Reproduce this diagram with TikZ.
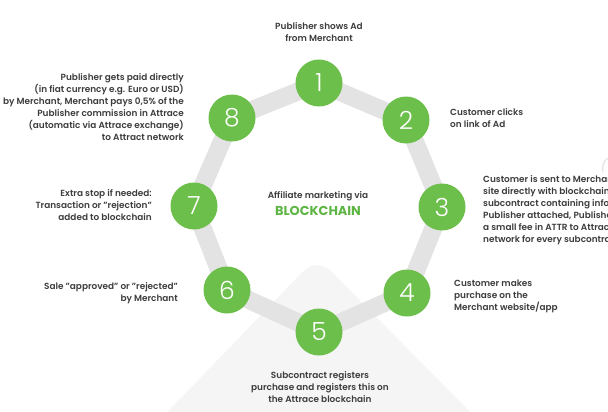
\documentclass[tikz,border=0pt]{standalone}
\usepackage{fontspec}
\usetikzlibrary{backgrounds}
\setmainfont{Poppins}[UprightFont=* SemiBold, BoldFont=* Bold]
\newfontfamily\numfont{Poppins}[UprightFont=* Light]
\definecolor{circgreen}{HTML}{6CBF4B}
\definecolor{titlegreen}{HTML}{5DB544}
\definecolor{txtgray}{HTML}{3C3C3C}
\definecolor{bandgray}{HTML}{E3E3E3}
\definecolor{bggray}{HTML}{F5F5F5}
\begin{document}
\begin{tikzpicture}[x=1pt,y=-1pt,
  stepcirc/.style={circle, fill=circgreen, minimum size=47pt, inner sep=0pt, text=white, font=\numfont\fontsize{25}{25}\selectfont},
  lbl/.style={inner sep=0pt, text=txtgray, font=\fontsize{8.9}{12.1}\selectfont},
  band/.style={draw=bandgray, line width=18pt, line join=round}]
\useasboundingbox (0,0) rectangle (608,412);
% step circles
\node[stepcirc] (s1) at (319,83) {1};
\node[stepcirc] (s2) at (406,120) {2};
\node[stepcirc] (s3) at (442,207) {3};
\node[stepcirc] (s4) at (407,293) {4};
\node[stepcirc] (s5) at (319,332) {5};
\node[stepcirc] (s6) at (227,290) {6};
\node[stepcirc] (s7) at (194,206) {7};
\node[stepcirc] (s8) at (232,118) {8};
\begin{scope}[on background layer]
  \clip (0,0) rectangle (608,412);
  % background triangle
  \fill[bggray, rounded corners=20pt] (150,430) -- (317,257) -- (488,430) -- cycle;
  % faint arc at the right edge
  \draw[bandgray, line width=1.2pt] (608,158) .. controls (603,161) and (602,167) .. (603,172);
  % band behind circles
  \draw[band] (s1.center) -- (s2.center) -- (s3.center) -- (s4.center) -- (s5.center) -- (s6.center) -- (s7.center) -- (s8.center) -- cycle;
\end{scope}
% center title
\node[lbl] (title) at (318,196) {Affiliate marketing via};
\node[inner sep=0pt, text=titlegreen, font=\bfseries\fontsize{12.9}{14}\selectfont] (chain) at (318,211) {BLOCKCHAIN};
% labels
\node[lbl, anchor=north, align=center] (t1) at (319,22) {Publisher shows Ad\\from Merchant};
\node[lbl, anchor=north west, align=left] (t2) at (450,108) {Customer clicks\\on link of Ad};
\begin{scope}
  \clip (0,0) rectangle (608,412);
  \node[lbl, anchor=north west, align=left] (t3) at (483,175) {Customer is sent to Merchant\\site directly with blockchain\\subcontract containing info of\\Publisher attached, Publisher pays\\a small fee in ATTR to Attrace\\network for every subcontract};
\end{scope}
\node[lbl, anchor=north west, align=left] (t4) at (454,280) {Customer makes\\purchase on the\\Merchant website/app};
\node[lbl, anchor=north, align=center] (t5) at (320,371) {Subcontract registers\\purchase and registers this on\\the Attrace blockchain};
\node[lbl, anchor=north east, align=right] (t6) at (178,282) {Sale "approved" or "rejected"\\by Merchant};
\node[lbl, anchor=north east, align=right] (t7) at (152,189) {Extra stop if needed:\\Transaction or "rejection"\\added to blockchain};
\node[lbl, anchor=north east, align=right] (t8) at (184,73) {Publisher gets paid directly\\(in fiat currency e.g. Euro or USD)\\by Merchant, Merchant pays 0,5\% of the\\Publisher commission in Attrace\\(automatic via Attrace exchange)\\to Attract network};
\end{tikzpicture}
\end{document}
